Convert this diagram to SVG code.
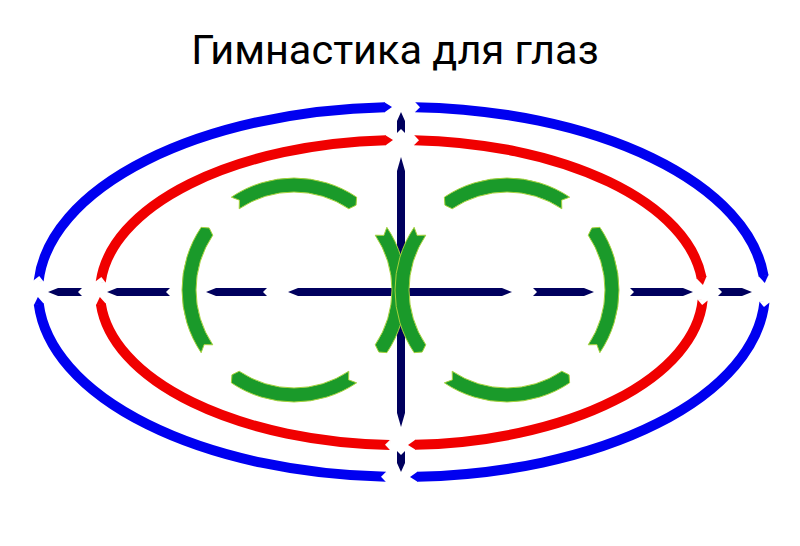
<svg xmlns="http://www.w3.org/2000/svg" xmlns:xlink="http://www.w3.org/1999/xlink" width="800" height="546" viewBox="0 0 800 546">
  <style>
    .title { font-family: Roboto, "Noto Sans", "Liberation Sans", sans-serif; font-size: 41.5px; fill: #000; }
    .blue { fill: none; stroke: #0000f0; stroke-width: 10; marker-start: url(#notch); marker-end: url(#tipB); }
    .red { fill: none; stroke: #f00000; stroke-width: 10; marker-start: url(#notch); marker-end: url(#tipR); }
    .navy { fill: #00005e; }
    .green { fill: #1a9a2a; stroke: #a6d23c; stroke-width: 1; }
  </style>
  <defs>
    <marker id="tipB" viewBox="-1 -1 2 2" markerWidth="2" markerHeight="2" refX="0" refY="0" orient="auto" overflow="visible">
      <path d="M-0.05,-0.5 L0.7,0 L-0.05,0.5 Z" fill="#0000f0"/>
    </marker>
    <marker id="tipR" viewBox="-1 -1 2 2" markerWidth="2" markerHeight="2" refX="0" refY="0" orient="auto" overflow="visible">
      <path d="M-0.05,-0.5 L0.7,0 L-0.05,0.5 Z" fill="#f00000"/>
    </marker>
    <marker id="notch" viewBox="-1 -1 2 2" markerWidth="2" markerHeight="2" refX="0" refY="0" orient="auto" overflow="visible">
      <path d="M-0.05,-0.56 L0.5,0 L-0.05,0.56 Z" fill="#ffffff"/>
    </marker>
    <path id="garc" d="M92.85,-62.63 A112,112 0 0 1 92.85,62.63 L84.81,62.04 L81.24,54.8 A98,98 0 0 0 81.24,-54.8 L89.85,-54.58 Z"/>
  </defs>

  <rect width="800" height="546" fill="#ffffff"/>

  <g id="title">
    <text class="title" x="395" y="64" text-anchor="middle">Гимнастика для глаз</text>
  </g>

  <g id="ellipse-blue">
    <path class="blue" d="M38.64,281 A363.5,185 0 0 1 385,107.19"/>
    <path class="blue" d="M415,107.13 A363.5,185 0 0 1 763.64,276"/>
    <path class="blue" d="M764.47,302 A363.5,185 0 0 1 417,476.83"/>
    <path class="blue" d="M386,476.83 A363.5,185 0 0 1 38.76,304"/>
  </g>

  <g id="ellipse-red">
    <path class="red" d="M100.71,282 A301.5,152.5 0 0 1 386,140.2"/>
    <path class="red" d="M414,140.13 A301.5,152.5 0 0 1 701.64,278"/>
    <path class="red" d="M702.64,300 A301.5,152.5 0 0 1 415,444.85"/>
    <path class="red" d="M390,444.89 A301.5,152.5 0 0 1 100.86,304"/>
  </g>

  <g id="axes">
    <polygon class="navy" points="48,292 58,288 82,288 78,292 82,296 58,296"/>
    <polygon class="navy" points="107,292 117,288 170,288 166,292 170,296 117,296"/>
    <polygon class="navy" points="206,292 216,288 267,288 263,292 267,296 216,296"/>
    <polygon class="navy" points="288,292 298,288 502,288 512,292 502,296 298,296"/>
    <polygon class="navy" points="594,292 584,288 533,288 537,292 533,296 584,296"/>
    <polygon class="navy" points="693,292 683,288 630,288 634,292 630,296 683,296"/>
    <polygon class="navy" points="752,292 742,288 718,288 722,292 718,296 742,296"/>
    <polygon class="navy" points="401,112 405,121 405,133 401,129 397,133 397,121"/>
    <polygon class="navy" points="401,157 405,171 405,413 401,427 397,413 397,171"/>
    <polygon class="navy" points="401,472 405,463 405,451 401,455 397,451 397,463"/>
  </g>

  <g id="eye-left" class="green">
    <use xlink:href="#garc" transform="translate(294,290)"/>
    <use xlink:href="#garc" transform="translate(294,290) rotate(90)"/>
    <use xlink:href="#garc" transform="translate(294,290) rotate(180)"/>
    <use xlink:href="#garc" transform="translate(294,290) rotate(270)"/>
  </g>

  <g id="eye-right" class="green">
    <use xlink:href="#garc" transform="translate(507,290) scale(-1,1)"/>
    <use xlink:href="#garc" transform="translate(507,290) scale(-1,1) rotate(90)"/>
    <use xlink:href="#garc" transform="translate(507,290) scale(-1,1) rotate(180)"/>
    <use xlink:href="#garc" transform="translate(507,290) scale(-1,1) rotate(270)"/>
  </g>
</svg>
